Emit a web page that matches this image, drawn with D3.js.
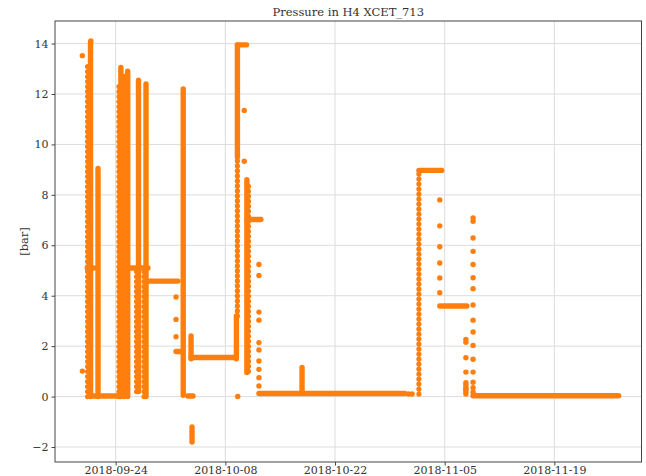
<!DOCTYPE html>
<html>
<head>
<meta charset="utf-8">
<script src="https://cdn.jsdelivr.net/npm/d3@7"></script>
<style>
  body { margin: 0; background: #fff; }
  #graf text { font-family: 'DejaVu Serif', serif; fill: #333; }
  .eje path, .eje line { stroke: #444; }
  .eje text { font-size: 11px; }
</style>
</head>
<body>
<div id="graf"></div>
<script>
// I. Datos

// tramos continuos: [inicio, fin, valor]
plateaus = [
  ['2018-09-20 09:00', '2018-09-21 05:00', 5.1],
  ['2018-09-21 02:00', '2018-09-25 04:00', 0.02],
  ['2018-09-24 12:00', '2018-09-28 03:00', 5.1],
  ['2018-09-28 03:00', '2018-10-01 23:00', 4.58],
  ['2018-10-01 17:00', '2018-10-02 11:00', 1.79],
  ['2018-10-03 05:00', '2018-10-03 21:00', 0.02],
  ['2018-10-03 15:00', '2018-10-09 08:00', 1.55],
  ['2018-10-09 13:00', '2018-10-10 17:00', 13.95],
  ['2018-10-10 18:00', '2018-10-12 13:00', 7.02],
  ['2018-10-12 07:00', '2018-10-30 22:00', 0.12],
  ['2018-11-01 17:00', '2018-11-04 15:00', 8.97],
  ['2018-11-04 09:00', '2018-11-07 20:00', 3.59],
  ['2018-11-08 15:00', '2018-11-27 05:00', 0.03]
]

// columnas densas: [tiempo, min, max]
denseCols = [
  ['2018-09-20 19:00', 0, 14.05],
  ['2018-09-21 18:00', 0, 9.05],
  ['2018-09-24 16:00', 0, 13.05],
  ['2018-09-25 02:00', 0, 12.7],
  ['2018-09-25 13:00', 0, 12.9],
  ['2018-09-26 22:00', 0.2, 12.55],
  ['2018-09-27 21:00', 0, 12.4],
  ['2018-10-02 15:00', 0.05, 12.2],
  ['2018-10-03 15:00', 1.5, 2.4],
  ['2018-10-03 18:00', -1.8, -1.2],
  ['2018-10-09 13:00', 9.5, 13.95],
  ['2018-10-09 10:00', 1.5, 3.2],
  ['2018-10-10 18:00', 0.95, 8.6],
  ['2018-10-17 19:00', 0.13, 1.15],
  ['2018-11-07 17:00', 0.1, 0.55]
]

// columnas punteadas: [tiempo, min, max]
dotCols = [
  ['2018-09-20 10:00', 0, 13.2],
  ['2018-09-24 10:00', 0, 12.3],
  ['2018-09-26 16:00', 0.2, 5.0],
  ['2018-09-27 15:00', 0, 5.0],
  ['2018-10-09 13:00', 3.2, 9.5],
  ['2018-10-10 23:00', 1.0, 8.4],
  ['2018-11-01 17:00', 0.1, 9.0]
]

// puntos sueltos: [tiempo, valor]
points = [
  ['2018-09-19 18:00', 13.52], ['2018-09-19 18:00', 1.01],
  ['2018-09-20 20:00', 14.1],
  ['2018-10-01 17:00', 3.95], ['2018-10-01 17:00', 3.06], ['2018-10-01 17:00', 2.37],
  ['2018-10-09 14:00', 0.0],
  ['2018-10-10 10:00', 11.35], ['2018-10-10 10:00', 9.33],
  ['2018-10-12 07:00', 5.24], ['2018-10-12 07:00', 4.8], ['2018-10-12 07:00', 3.35],
  ['2018-10-12 07:00', 3.03], ['2018-10-12 07:00', 2.14], ['2018-10-12 07:00', 1.85],
  ['2018-10-12 07:00', 1.41], ['2018-10-12 07:00', 1.08], ['2018-10-12 07:00', 0.75],
  ['2018-10-12 07:00', 0.42],
  ['2018-10-31 09:00', 0.1], ['2018-10-31 20:00', 0.1],
  ['2018-11-04 09:00', 7.8], ['2018-11-04 09:00', 6.77], ['2018-11-04 09:00', 5.94],
  ['2018-11-04 09:00', 5.3], ['2018-11-04 09:00', 4.7], ['2018-11-04 09:00', 4.12],
  ['2018-11-07 17:00', 2.27], ['2018-11-07 17:00', 2.15], ['2018-11-07 17:00', 1.54],
  ['2018-11-07 17:00', 0.97], ['2018-11-07 17:00', 0.29],
  ['2018-11-08 15:00', 7.08], ['2018-11-08 15:00', 6.95], ['2018-11-08 15:00', 6.29],
  ['2018-11-08 15:00', 5.76], ['2018-11-08 15:00', 5.24], ['2018-11-08 15:00', 4.71],
  ['2018-11-08 15:00', 4.28], ['2018-11-08 15:00', 3.63], ['2018-11-08 15:00', 3.03],
  ['2018-11-08 15:00', 2.56], ['2018-11-08 15:00', 2.03], ['2018-11-08 15:00', 1.48],
  ['2018-11-08 15:00', 0.97], ['2018-11-08 15:00', 0.57], ['2018-11-08 15:00', 0.35],
  ['2018-11-08 15:00', 0.17]
]

xTicks = ['2018-09-24', '2018-10-08', '2018-10-22', '2018-11-05', '2018-11-19']
xLimits = ['2018-09-16 06:10', '2018-11-30 03:00']
yTicks = [-2, 0, 2, 4, 6, 8, 10, 12, 14]


// II. Configuracion

ancho_total = 646
alto_total = 476
margins = { top: 21, left: 55, right: 4.5, bottom: 14 }
ancho = ancho_total - margins.left - margins.right
alto = alto_total - margins.top - margins.bottom

naranja = '#ff7f0e'
parseT = d3.timeParse('%Y-%m-%d %H:%M')
parseD = d3.timeParse('%Y-%m-%d')

svg = d3.select('#graf').append('svg')
        .attr('width', ancho_total)
        .attr('height', alto_total)

g = svg.append('g')
        .attr('transform', `translate(${ margins.left }, ${ margins.top })`)

// eje y con 5% de margen como matplotlib
todosV = [].concat(
  plateaus.map(d => d[2]), denseCols.flatMap(d => [d[1], d[2]]),
  dotCols.flatMap(d => [d[1], d[2]]), points.map(d => d[1])
)
vExt = d3.extent(todosV)
vPad = (vExt[1] - vExt[0]) * 0.05

x = d3.scaleTime()
      .domain(xLimits.map(parseT))
      .range([0, ancho])
y = d3.scaleLinear()
      .domain([vExt[0] - vPad, vExt[1] + vPad])
      .range([alto, 0])


// III. Render

// rejilla
g.selectAll('.gx').data(xTicks).enter().append('line')
  .attr('x1', d => x(parseD(d))).attr('x2', d => x(parseD(d)))
  .attr('y1', 0).attr('y2', alto)
  .attr('stroke', '#dcdcdc').attr('stroke-width', 1)
g.selectAll('.gy').data(yTicks).enter().append('line')
  .attr('y1', d => y(d)).attr('y2', d => y(d))
  .attr('x1', 0).attr('x2', ancho)
  .attr('stroke', '#dcdcdc').attr('stroke-width', 1)

svg.append('clipPath').attr('id', 'clip')
  .append('rect').attr('width', ancho).attr('height', alto)
datos = g.append('g').attr('clip-path', 'url(#clip)')

datos.selectAll('.plateau').data(plateaus).enter().append('line')
  .attr('x1', d => x(parseT(d[0]))).attr('x2', d => x(parseT(d[1])))
  .attr('y1', d => y(d[2])).attr('y2', d => y(d[2]))
  .attr('stroke', naranja).attr('stroke-width', 5.4).attr('stroke-linecap', 'round')

datos.selectAll('.dense').data(denseCols).enter().append('line')
  .attr('x1', d => x(parseT(d[0]))).attr('x2', d => x(parseT(d[0])))
  .attr('y1', d => y(d[1])).attr('y2', d => y(d[2]))
  .attr('stroke', naranja).attr('stroke-width', 5.4).attr('stroke-linecap', 'round')

datos.selectAll('.dotted').data(dotCols).enter().append('line')
  .attr('x1', d => x(parseT(d[0]))).attr('x2', d => x(parseT(d[0])))
  .attr('y1', d => y(d[1])).attr('y2', d => y(d[2]))
  .attr('stroke', naranja).attr('stroke-width', 5.2).attr('stroke-linecap', 'round')
  .attr('stroke-dasharray', '0 5')

datos.selectAll('circle').data(points).enter().append('circle')
  .attr('cx', d => x(parseT(d[0])))
  .attr('cy', d => y(d[1]))
  .attr('r', 2.7)
  .attr('fill', naranja)

// ejes
xAxisCall = d3.axisBottom(x)
  .tickValues(xTicks.map(parseD))
  .tickFormat(d3.timeFormat('%Y-%m-%d'))
  .tickSize(3.5).tickPadding(1)
g.append('g').attr('class', 'eje')
  .attr('transform', `translate(0, ${ alto })`)
  .call(xAxisCall)

yAxisCall = d3.axisLeft(y)
  .tickValues(yTicks)
  .tickFormat(d => d < 0 ? '\u2212' + Math.abs(d) : d)
  .tickSize(3.5).tickPadding(3)
g.append('g').attr('class', 'eje').call(yAxisCall)

g.selectAll('.eje .domain').remove()

// marco
g.append('rect')
  .attr('width', ancho).attr('height', alto)
  .attr('fill', 'none').attr('stroke', '#444').attr('stroke-width', 1)

g.append('text')
  .attr('x', ancho / 2).attr('y', -5)
  .attr('text-anchor', 'middle')
  .style('font-size', '11.5px')
  .text('Pressure in H4 XCET_713')

g.append('text')
  .attr('transform', `translate(${ -27 }, ${ alto / 2 }) rotate(-90)`)
  .attr('text-anchor', 'middle')
  .style('font-size', '11.5px')
  .text('[bar]')
</script>
</body>
</html>
